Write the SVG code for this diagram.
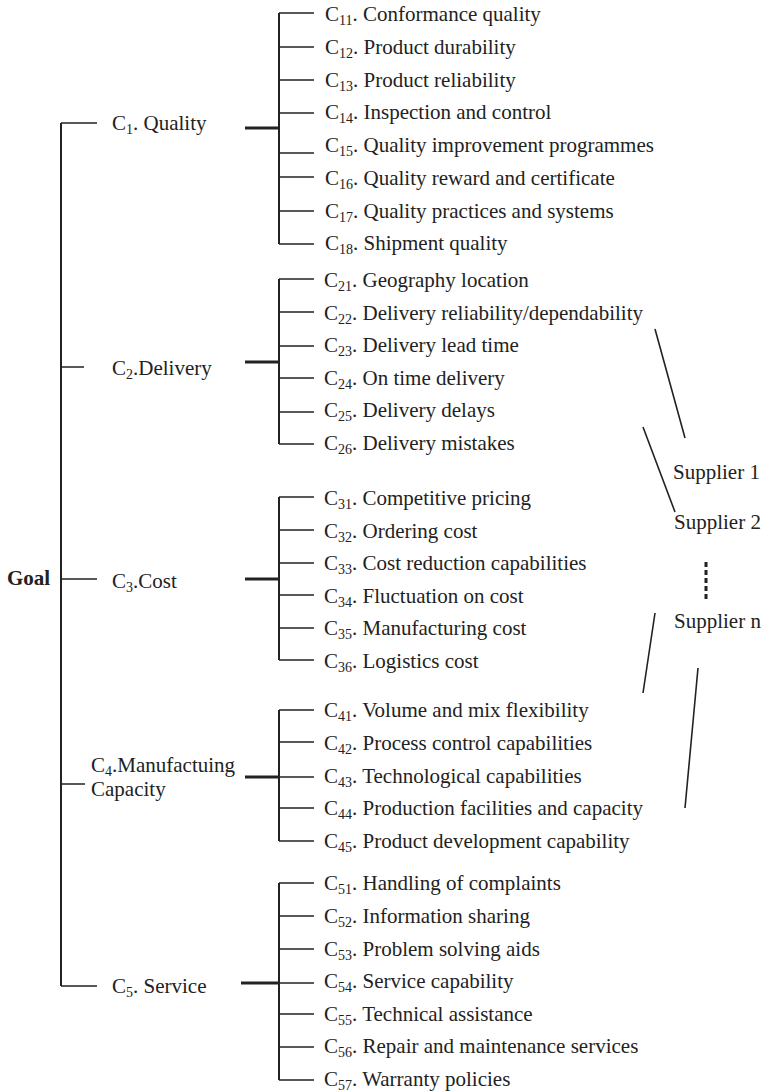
<svg xmlns="http://www.w3.org/2000/svg" width="765" height="1092" viewBox="0 0 765 1092">
<style>
text{font-family:"Liberation Serif","Times New Roman",serif;font-size:21px;fill:#222}
.s{font-size:14px}
.b{font-weight:bold}
.ln{stroke:#222;stroke-width:1.6;fill:none}
.vb{stroke:#222;stroke-width:2;fill:none}
.tb{stroke:#222;stroke-width:2.8;fill:none}
</style>
<rect width="765" height="1092" fill="#fff"/>
<g id="connectors">
<path class="vb" d="M61 123V986"/>
<path class="ln" d="M61 123H97M61 367H84M61 579H97M61 784H85M61 986H97"/>
<path class="tb" d="M245 128H279M245 362H279M245 579H279M245 777H279M241 983H279"/>
<path class="vb" d="M279 13V244M279 279V444M279 497V660M279 710V841M279 883V1080"/>
<path class="ln" d="M279 13H314M279 47H314M279 80H314M279 113H314M279 153H314M279 177H314M279 211H314M279 244H314"/>
<path class="ln" d="M279 279H314M279 312H314M279 346H314M279 378H314M279 412H314M279 444H314"/>
<path class="ln" d="M279 497H314M279 530H314M279 563H314M279 595H314M279 628H314M279 660H314"/>
<path class="ln" d="M279 710H314M279 742H314M279 777H314M279 808H314M279 841H314"/>
<path class="ln" d="M279 883H314M279 916H314M279 949H314M279 983H314M279 1014H314M279 1047H314M279 1080H314"/>
<path class="ln" d="M655 329L685 438M643 427L675 512M655 613L643 693M698 668L685 808"/>
<path d="M706 562V602" stroke="#222" stroke-width="3" stroke-dasharray="5 3"/>
</g>
<g id="goal"><text class="b" x="7" y="585">Goal</text></g>
<g id="c1"><text x="112" y="130">C<tspan class="s" dy="4">1</tspan><tspan dy="-4">. Quality</tspan></text></g>
<g id="c2"><text x="112" y="375">C<tspan class="s" dy="4">2</tspan><tspan dy="-4">.Delivery</tspan></text></g>
<g id="c3"><text x="112" y="588">C<tspan class="s" dy="4">3</tspan><tspan dy="-4">.Cost</tspan></text></g>
<g id="c4"><text x="91" y="772">C<tspan class="s" dy="4">4</tspan><tspan dy="-4">.Manufactuing</tspan></text><text x="91" y="796">Capacity</text></g>
<g id="c5"><text x="112" y="993">C<tspan class="s" dy="4">5</tspan><tspan dy="-4">. Service</tspan></text></g>
<g id="c1-subs">
<text x="325" y="21">C<tspan class="s" dy="4">11</tspan><tspan dy="-4">. Conformance quality</tspan></text>
<text x="325" y="54">C<tspan class="s" dy="4">12</tspan><tspan dy="-4">. Product durability</tspan></text>
<text x="325" y="87">C<tspan class="s" dy="4">13</tspan><tspan dy="-4">. Product reliability</tspan></text>
<text x="325" y="119">C<tspan class="s" dy="4">14</tspan><tspan dy="-4">. Inspection and control</tspan></text>
<text x="325" y="152">C<tspan class="s" dy="4">15</tspan><tspan dy="-4">. Quality improvement programmes</tspan></text>
<text x="325" y="185">C<tspan class="s" dy="4">16</tspan><tspan dy="-4">. Quality reward and certificate</tspan></text>
<text x="325" y="218">C<tspan class="s" dy="4">17</tspan><tspan dy="-4">. Quality practices and systems</tspan></text>
<text x="325" y="250">C<tspan class="s" dy="4">18</tspan><tspan dy="-4">. Shipment quality</tspan></text>
</g>
<g id="c2-subs">
<text x="324" y="287">C<tspan class="s" dy="4">21</tspan><tspan dy="-4">. Geography location</tspan></text>
<text x="324" y="320">C<tspan class="s" dy="4">22</tspan><tspan dy="-4">. Delivery reliability/dependability</tspan></text>
<text x="324" y="352">C<tspan class="s" dy="4">23</tspan><tspan dy="-4">. Delivery lead time</tspan></text>
<text x="324" y="385">C<tspan class="s" dy="4">24</tspan><tspan dy="-4">. On time delivery</tspan></text>
<text x="324" y="417">C<tspan class="s" dy="4">25</tspan><tspan dy="-4">. Delivery delays</tspan></text>
<text x="324" y="450">C<tspan class="s" dy="4">26</tspan><tspan dy="-4">. Delivery mistakes</tspan></text>
</g>
<g id="c3-subs">
<text x="324" y="505">C<tspan class="s" dy="4">31</tspan><tspan dy="-4">. Competitive pricing</tspan></text>
<text x="324" y="538">C<tspan class="s" dy="4">32</tspan><tspan dy="-4">. Ordering cost</tspan></text>
<text x="324" y="570">C<tspan class="s" dy="4">33</tspan><tspan dy="-4">. Cost reduction capabilities</tspan></text>
<text x="324" y="603">C<tspan class="s" dy="4">34</tspan><tspan dy="-4">. Fluctuation on cost</tspan></text>
<text x="324" y="635">C<tspan class="s" dy="4">35</tspan><tspan dy="-4">. Manufacturing cost</tspan></text>
<text x="324" y="668">C<tspan class="s" dy="4">36</tspan><tspan dy="-4">. Logistics cost</tspan></text>
</g>
<g id="c4-subs">
<text x="324" y="717">C<tspan class="s" dy="4">41</tspan><tspan dy="-4">. Volume and mix flexibility</tspan></text>
<text x="324" y="750">C<tspan class="s" dy="4">42</tspan><tspan dy="-4">. Process control capabilities</tspan></text>
<text x="324" y="783">C<tspan class="s" dy="4">43</tspan><tspan dy="-4">. Technological capabilities</tspan></text>
<text x="324" y="815">C<tspan class="s" dy="4">44</tspan><tspan dy="-4">. Production facilities and capacity</tspan></text>
<text x="324" y="848">C<tspan class="s" dy="4">45</tspan><tspan dy="-4">. Product development capability</tspan></text>
</g>
<g id="c5-subs">
<text x="324" y="890">C<tspan class="s" dy="4">51</tspan><tspan dy="-4">. Handling of complaints</tspan></text>
<text x="324" y="923">C<tspan class="s" dy="4">52</tspan><tspan dy="-4">. Information sharing</tspan></text>
<text x="324" y="956">C<tspan class="s" dy="4">53</tspan><tspan dy="-4">. Problem solving aids</tspan></text>
<text x="324" y="988">C<tspan class="s" dy="4">54</tspan><tspan dy="-4">. Service capability</tspan></text>
<text x="324" y="1021">C<tspan class="s" dy="4">55</tspan><tspan dy="-4">. Technical assistance</tspan></text>
<text x="324" y="1053">C<tspan class="s" dy="4">56</tspan><tspan dy="-4">. Repair and maintenance services</tspan></text>
<text x="324" y="1086">C<tspan class="s" dy="4">57</tspan><tspan dy="-4">. Warranty policies</tspan></text>
</g>
<g id="suppliers">
<text x="673" y="479">Supplier 1</text>
<text x="674" y="529">Supplier 2</text>
<text x="674" y="628">Supplier n</text>
</g>
</svg>
